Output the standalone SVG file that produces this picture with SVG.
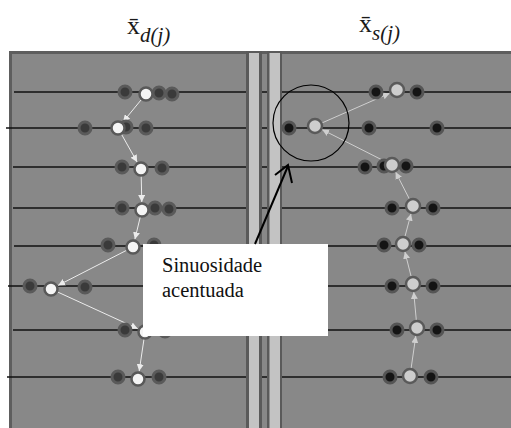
<svg xmlns="http://www.w3.org/2000/svg" width="511" height="428" viewBox="0 0 511 428">
<defs>
<style>
.panel{fill:#888888;stroke:#5e5e5e;stroke-width:3}
.strip{fill:#5a5a5a}
.stripin{fill:#c3c3c3}
.rail{stroke:#111;stroke-width:1.3;fill:none}
.dl{fill:#3a3a3a;stroke:#5a5a5a;stroke-width:3}
.wl{fill:#f5f5f5;stroke:#595959;stroke-width:2.5}
.dr{fill:#141414;stroke:#555;stroke-width:3}
.lr{fill:#cdcdcd;stroke:#5a5a5a;stroke-width:2.5}
.cl{stroke:#ececec;stroke-width:1;fill:none;marker-end:url(#ah)}
.cr{stroke:#cfcfcf;stroke-width:1;fill:none;marker-end:url(#ahr)}
</style>
<marker id="ah" viewBox="0 0 10 10" refX="10" refY="5" markerWidth="7" markerHeight="7" markerUnits="userSpaceOnUse" orient="auto"><path d="M0,0 L10,5 L0,10 z" fill="#ececec"/></marker>
<marker id="ahr" viewBox="0 0 10 10" refX="10" refY="5" markerWidth="7" markerHeight="7" markerUnits="userSpaceOnUse" orient="auto"><path d="M0,0 L10,5 L0,10 z" fill="#cfcfcf"/></marker>
</defs>
<rect width="511" height="428" fill="#ffffff"/>
<g id="titles" font-family="'Liberation Serif', 'Times New Roman', serif" fill="#1a1a1a">
<text x="127" y="34" font-size="26">x̄<tspan font-style="italic" font-size="21" dy="8">d(j)</tspan></text>
<text x="359" y="32" font-size="26">x̄<tspan font-style="italic" font-size="21" dy="8">s(j)</tspan></text>
</g>
<g id="panels">
<rect class="panel" x="10.5" y="52.5" width="520" height="390"/>
</g>
<g id="rails">
<line class="rail" x1="14" y1="92" x2="511" y2="92"/>
<line class="rail" x1="6" y1="128" x2="511" y2="128"/>
<line class="rail" x1="13" y1="167" x2="511" y2="167"/>
<line class="rail" x1="13" y1="208" x2="511" y2="208"/>
<line class="rail" x1="14" y1="246" x2="511" y2="246"/>
<line class="rail" x1="8" y1="286" x2="511" y2="286"/>
<line class="rail" x1="13" y1="330" x2="511" y2="330"/>
<line class="rail" x1="7" y1="377" x2="511" y2="377"/>
</g>
<g id="strips">
<rect class="strip" x="246" y="51" width="16" height="380"/>
<rect class="stripin" x="249" y="53" width="10" height="380"/>
<rect class="strip" x="267" y="51" width="15" height="380"/>
<rect class="stripin" x="269.5" y="53" width="10.5" height="380"/>
</g>
<g id="connectors">
<line class="cl" x1="141.5" y1="99.4" x2="123.1" y2="121.8"/>
<line class="cl" x1="121.4" y1="134.1" x2="137.1" y2="162"/>
<line class="cl" x1="141.2" y1="176" x2="141.8" y2="202"/>
<line class="cl" x1="140.3" y1="216.8" x2="134.9" y2="239.2"/>
<line class="cl" x1="126.8" y1="250.2" x2="58.1" y2="285.4"/>
<line class="cl" x1="57.4" y1="291.9" x2="137.7" y2="328.7"/>
<line class="cl" x1="144" y1="338.9" x2="139.2" y2="371.1"/>
<line class="cr" x1="411" y1="369" x2="415.8" y2="336"/>
<line class="cr" x1="416.4" y1="321" x2="413.7" y2="292"/>
<line class="cr" x1="411.3" y1="277.2" x2="404.9" y2="251.8"/>
<line class="cr" x1="404.8" y1="237.2" x2="411" y2="213.7"/>
<line class="cr" x1="409.8" y1="199.8" x2="395.6" y2="172.1"/>
<line class="cr" x1="385.8" y1="161.8" x2="322.1" y2="129.6"/>
<line class="cr" x1="321.4" y1="123.2" x2="389.7" y2="93.2"/>
</g>
<g id="left-row1"><circle class="dl" cx="125" cy="92" r="6"/><circle class="dl" cx="172" cy="94" r="6"/><circle class="dl" cx="159" cy="93" r="6"/><circle class="wl" cx="146" cy="94" r="6.5"/></g>
<g id="left-row2"><circle class="dl" cx="85" cy="128" r="6"/><circle class="dl" cx="126" cy="127" r="6"/><circle class="dl" cx="146" cy="128" r="6"/><circle class="wl" cx="118" cy="128" r="6.5"/></g>
<g id="left-row3"><circle class="dl" cx="122" cy="167" r="6"/><circle class="dl" cx="162" cy="168" r="6"/><circle class="wl" cx="141" cy="169" r="6.5"/></g>
<g id="left-row4"><circle class="dl" cx="122" cy="208" r="6"/><circle class="dl" cx="169" cy="209" r="6"/><circle class="dl" cx="155" cy="208" r="6"/><circle class="wl" cx="142" cy="210" r="6.5"/></g>
<g id="left-row5"><circle class="dl" cx="108" cy="245" r="6"/><circle class="dl" cx="154" cy="245" r="6"/><circle class="wl" cx="133" cy="247" r="6.5"/></g>
<g id="left-row6"><circle class="dl" cx="30" cy="286" r="6"/><circle class="dl" cx="85" cy="287" r="6"/><circle class="wl" cx="51" cy="289" r="6.5"/></g>
<g id="left-row7"><circle class="dl" cx="125" cy="330" r="6"/><circle class="dl" cx="165" cy="331" r="6"/><circle class="wl" cx="145" cy="332" r="6.5"/></g>
<g id="left-row8"><circle class="dl" cx="118" cy="377" r="6"/><circle class="dl" cx="159" cy="377" r="6"/><circle class="wl" cx="138" cy="379" r="6.5"/></g>
<g id="right-row1"><circle class="dr" cx="376" cy="92" r="6"/><circle class="dr" cx="417" cy="92" r="6"/><circle class="lr" cx="397" cy="90" r="7"/></g>
<g id="right-row2"><circle class="dr" cx="289" cy="128" r="6"/><circle class="dr" cx="369" cy="128" r="6"/><circle class="dr" cx="437" cy="128" r="6"/><circle class="lr" cx="315" cy="126" r="7"/></g>
<g id="right-row3"><circle class="dr" cx="365" cy="167" r="6"/><circle class="dr" cx="384" cy="166" r="6"/><circle class="dr" cx="406" cy="166" r="6"/><circle class="lr" cx="392" cy="165" r="7"/></g>
<g id="right-row4"><circle class="dr" cx="392" cy="208" r="6"/><circle class="dr" cx="433" cy="208" r="6"/><circle class="lr" cx="413" cy="206" r="7"/></g>
<g id="right-row5"><circle class="dr" cx="384" cy="245" r="6"/><circle class="dr" cx="419" cy="245" r="6"/><circle class="lr" cx="403" cy="244" r="7"/></g>
<g id="right-row6"><circle class="dr" cx="392" cy="286" r="6"/><circle class="dr" cx="433" cy="286" r="6"/><circle class="lr" cx="413" cy="284" r="7"/></g>
<g id="right-row7"><circle class="dr" cx="397" cy="330" r="6"/><circle class="dr" cx="437" cy="330" r="6"/><circle class="lr" cx="417" cy="328" r="7"/></g>
<g id="right-row8"><circle class="dr" cx="390" cy="377" r="6"/><circle class="dr" cx="431" cy="377" r="6"/><circle class="lr" cx="410" cy="376" r="7"/></g>
<g id="highlight"><circle cx="311" cy="123" r="38" fill="none" stroke="#000" stroke-width="1.2"/></g>
<g id="callout">
<rect x="143" y="244" width="185" height="92" fill="#ffffff"/>
<text x="162" y="272" font-family="'Liberation Serif', 'Times New Roman', serif" font-size="20.5" fill="#111">Sinuosidade</text>
<text x="162" y="297" font-family="'Liberation Serif', 'Times New Roman', serif" font-size="20.5" fill="#111">acentuada</text>
<line x1="255" y1="244" x2="288" y2="166" stroke="#000" stroke-width="2"/>
<polyline points="275,175 288,165 292,183" fill="none" stroke="#000" stroke-width="2"/>
</g>
</svg>
